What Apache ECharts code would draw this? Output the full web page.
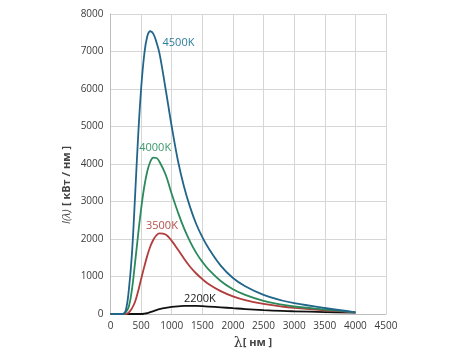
<!DOCTYPE html>
<html>
<head>
<meta charset="utf-8">
<script src="https://cdn.jsdelivr.net/npm/echarts@6/dist/echarts.min.js"></script>
<style>
html,body{margin:0;padding:0;background:#fff;}
#c{width:474px;height:355px;}
</style>
</head>
<body>
<div id="c"></div>
<script>
// wavelength (nm)
var lambdaNm = [0, 100, 200, 250, 300, 350, 400, 450, 500, 550, 600, 650, 700, 750, 800, 900, 1000, 1100, 1200, 1300, 1400, 1500, 1600, 1800, 2000, 2200, 2500, 2800, 3000, 3500, 4000];
// intensity per temperature
var t4500 = [0, 0, 0, 100, 650, 1600, 3100, 4700, 6000, 6900, 7400, 7540, 7470, 7250, 6950, 6000, 5000, 4100, 3400, 2850, 2400, 2050, 1760, 1290, 960, 740, 510, 360, 290, 160, 45];
var t4000 = [0, 0, 0, 50, 200, 650, 1350, 2100, 2800, 3380, 3800, 4060, 4170, 4160, 4060, 3720, 3200, 2720, 2290, 1930, 1630, 1390, 1190, 880, 660, 510, 350, 250, 200, 120, 45];
var t3500 = [0, 0, 0, 0, 40, 150, 320, 600, 930, 1250, 1550, 1800, 1980, 2100, 2150, 2120, 1950, 1720, 1480, 1260, 1080, 930, 800, 610, 470, 370, 270, 200, 165, 100, 45];
var t2200 = [0, 0, 0, 0, 0, 0, 0, 0, 0, 8, 25, 50, 78, 105, 128, 162, 188, 205, 214, 217, 214, 208, 199, 178, 155, 132, 104, 82, 72, 52, 38];
var seriesNames = ['4500K', '4000K', '3500K', '2200K'];
var xTicks = [0, 500, 1000, 1500, 2000, 2500, 3000, 3500, 4000, 4500];
var yTicks = [0, 1000, 2000, 3000, 4000, 5000, 6000, 7000, 8000];

function pairs(ys){ return lambdaNm.map(function(x,i){ return [x, ys[i]]; }); }

var lineColors = ['#22658a', '#2b8a5c', '#b23b3b', '#111111'];
var labelColors = ['#2d7d9c', '#3a9a6c', '#b5504a', '#1a1a1a'];
var labelAt = [[1110, 7220], [730, 4420], [840, 2360], [1460, 410]];
var allData = [t4500, t4000, t3500, t2200];

var chart = echarts.init(document.getElementById('c'), null, {renderer:'canvas'});
var series = allData.map(function(d, i){
  return {
    name: seriesNames[i],
    type: 'line',
    data: pairs(d),
    smooth: 0.4,
    showSymbol: false,
    lineStyle: {color: lineColors[i], width: 1.8},
    z: 10 - i,
    markPoint: {
      symbol: 'circle', symbolSize: 0,
      label: {show: true, position: 'inside', formatter: seriesNames[i], color: labelColors[i], fontSize: 11, fontFamily: 'Open Sans'},
      data: [{coord: labelAt[i]}]
    }
  };
});

function plain(v){ return String(v); }

chart.setOption({
  animation: false,
  backgroundColor: '#ffffff',
  grid: {left: 110.5, right: 88, top: 14, bottom: 41},
  xAxis: {
    type: 'value', min: xTicks[0], max: xTicks[xTicks.length-1], interval: 500,
    axisLine: {show: true, lineStyle: {color: '#bdbdbd'}},
    axisTick: {show: false},
    splitLine: {show: true, lineStyle: {color: '#d6d6d6'}},
    axisLabel: {color: '#3a3a3a', fontSize: 10, fontFamily: 'Open Sans', margin: 7, formatter: plain}
  },
  yAxis: {
    type: 'value', min: yTicks[0], max: yTicks[yTicks.length-1], interval: 1000,
    axisLine: {show: true, lineStyle: {color: '#bdbdbd'}},
    axisTick: {show: false},
    splitLine: {show: true, lineStyle: {color: '#d6d6d6'}},
    axisLabel: {color: '#3a3a3a', fontSize: 10, fontFamily: 'Open Sans', margin: 7, formatter: plain}
  },
  graphic: [
    {
      type: 'text', x: 253, y: 343,
      style: {
        text: '{l|λ}{b|[ нм ]}',
        align: 'center', verticalAlign: 'middle',
        rich: {
          l: {fontFamily: 'DejaVu Serif', fontSize: 14, fill: '#333'},
          b: {fontFamily: 'Open Sans', fontSize: 11, fontWeight: 'bold', fill: '#444'}
        }
      }
    },
    {
      type: 'text', x: 67, y: 185, rotation: Math.PI/2,
      style: {
        text: '{i|I(λ)} {b|[ кВт / нм ]}',
        align: 'center', verticalAlign: 'middle',
        rich: {
          i: {fontFamily: 'Open Sans', fontSize: 11, fontStyle: 'italic', fill: '#444'},
          b: {fontFamily: 'Open Sans', fontSize: 11, fontWeight: 'bold', fill: '#444'}
        }
      }
    }
  ],
  series: series
});
</script>
</body>
</html>
